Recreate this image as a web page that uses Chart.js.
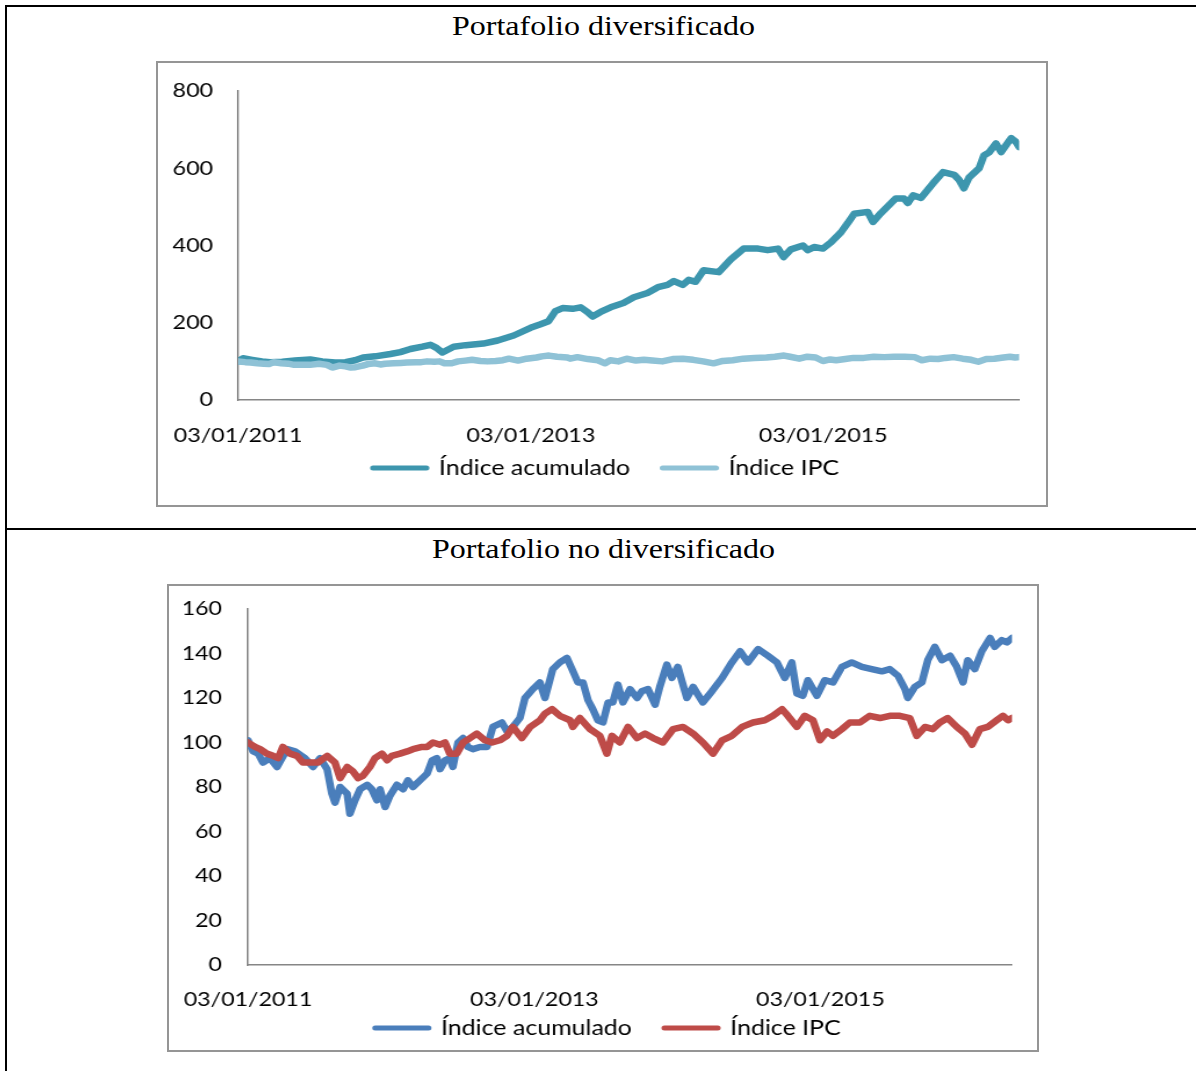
<!DOCTYPE html>
<html lang="es">
<head>
<meta charset="utf-8">
<title>Portafolio diversificado y no diversificado</title>
<script src="https://cdn.jsdelivr.net/npm/chart.js@4.4.1/dist/chart.umd.min.js"></script>
<style>
  html, body { margin: 0; padding: 0; background: #fff; }
  body { width: 1196px; height: 1071px; position: relative; overflow: hidden; }
  .regla { position: absolute; background: #000; }
  .titulo {
    position: absolute; left: 0; width: 1207px; text-align: center;
    font-family: "Liberation Serif", "Times New Roman", serif;
    font-size: 27.6px; line-height: 27.6px; color: #000; white-space: nowrap;
    transform: scaleX(1.16);
  }
  .marco { position: absolute; box-sizing: border-box; border: 2px solid #959595; background: #fff; overflow: hidden; }
  .lienzo { position: absolute; left: 0; top: 0; transform-origin: 0 0; transform: scaleX(1.16); }
</style>
</head>
<body>
<div class="regla" style="left:5px;top:5px;width:1191px;height:2px"></div>
<div class="regla" style="left:5px;top:5px;width:2px;height:1066px"></div>
<div class="regla" style="left:5px;top:528px;width:1191px;height:2px"></div>

<div class="titulo" style="top:12px">Portafolio diversificado</div>
<div class="marco" style="left:156px;top:61px;width:892px;height:446px">
  <div class="lienzo" style="width:765.5px;height:442px"><canvas id="graficoDiv"></canvas></div>
</div>

<div class="titulo" style="top:535px">Portafolio no diversificado</div>
<div class="marco" style="left:167px;top:584px;width:872px;height:468px">
  <div class="lienzo" style="width:748.3px;height:464px"><canvas id="graficoNoDiv"></canvas></div>
</div>

<script>
// Eje de tiempo: días transcurridos desde el 03/01/2011
const diasEtiquetasX = [0, 731, 1461];
const etiquetasEjeX = ['03/01/2011', '03/01/2013', '03/01/2015'];
const diaFinal = 1950;

// Portafolio diversificado: índice acumulado
const diasAcumDiv = [0, 12, 35, 60, 80, 110, 142, 180, 210, 242, 268, 292, 312, 342, 380, 405, 430, 460, 480, 495,
  510, 538, 568, 612, 648, 688, 730, 755, 775, 792, 810, 835, 855, 872, 885, 905, 930, 962, 988, 1022,
  1048, 1072, 1088, 1110, 1125, 1142, 1162, 1200, 1230, 1262, 1298, 1322, 1348, 1362, 1380, 1410, 1422, 1438, 1460, 1480,
  1505, 1522, 1538, 1572, 1585, 1605, 1642, 1662, 1672, 1685, 1705, 1735, 1760, 1788, 1800, 1812, 1825, 1850, 1862, 1875,
  1892, 1905, 1930, 1942, 1950];
const indiceAcumDiv = [100, 108, 104, 100, 98, 99, 102, 105, 100, 97, 98, 103, 110, 113, 119, 124, 132, 138, 143, 135,
  123, 138, 142, 146, 154, 167, 187, 196, 204, 230, 238, 236, 240, 228, 216, 228, 240, 251, 266, 277,
  292, 298, 308, 298, 311, 306, 336, 331, 364, 392, 392, 388, 392, 370, 390, 400, 388, 396, 392, 408,
  434, 458, 482, 487, 461, 484, 522, 522, 510, 530, 523, 561, 590, 583, 570, 548, 576, 600, 633, 641,
  664, 642, 678, 668, 655];

// Portafolio no diversificado: índice acumulado
const diasAcumNoDiv = [0, 13, 26, 38, 56, 74, 87, 100, 120, 145, 166, 184, 202, 214, 222, 235, 253, 260, 273, 286,
  304, 316, 329, 337, 350, 362, 380, 396, 408, 421, 439, 457, 470, 482, 490, 503, 515, 523, 536, 549,
  561, 574, 592, 610, 625, 648, 661, 676, 694, 707, 727, 745, 758, 778, 796, 814, 827, 842, 855, 868,
  880, 893, 906, 919, 931, 944, 957, 975, 993, 1005, 1021, 1039, 1051, 1069, 1082, 1097, 1120, 1136, 1161, 1184,
  1210, 1235, 1256, 1276, 1302, 1327, 1350, 1370, 1388, 1401, 1416, 1429, 1452, 1472, 1493, 1516, 1541, 1567, 1592, 1618,
  1638, 1659, 1677, 1684, 1702, 1720, 1735, 1753, 1771, 1792, 1809, 1825, 1837, 1855, 1873, 1894, 1906, 1924, 1937, 1950];
const indiceAcumNoDiv = [101, 96, 95, 91, 93, 89, 93, 97, 96, 93, 89, 93, 88, 77, 73, 80, 77, 68, 74, 79,
  81, 79, 74, 79, 71, 76, 81, 79, 83, 80, 83, 86, 92, 93, 88, 92, 93, 89, 100, 102,
  98, 97, 98, 98, 107, 109, 105, 107, 111, 120, 124, 127, 120, 133, 136, 138, 133, 127, 127, 119,
  115, 110, 109, 118, 118, 126, 118, 124, 120, 123, 124, 117, 125, 135, 129, 134, 120, 125, 118, 123,
  129, 136, 141, 136, 142, 139, 136, 129, 136, 122, 121, 128, 121, 128, 127, 134, 136, 134, 133, 132,
  133, 130, 124, 120, 125, 127, 137, 143, 137, 139, 134, 127, 137, 133, 141, 147, 143, 146, 145, 147];

// Índice IPC (común a ambos portafolios)
const diasIpc = [0, 18, 31, 48, 64, 77, 89, 107, 125, 140, 158, 179, 202, 222, 235, 253, 268, 281, 293, 311,
  324, 342, 355, 367, 388, 406, 421, 444, 457, 472, 490, 503, 515, 533, 549, 567, 584, 605, 623, 643,
  661, 676, 699, 720, 745, 758, 776, 796, 822, 829, 847, 873, 898, 916, 929, 949, 970, 993, 1013, 1034,
  1059, 1085, 1110, 1136, 1161, 1187, 1210, 1235, 1261, 1289, 1319, 1340, 1363, 1378, 1401, 1421, 1442, 1460, 1478, 1493,
  1516, 1536, 1562, 1587, 1613, 1638, 1664, 1689, 1707, 1728, 1748, 1766, 1786, 1809, 1830, 1848, 1868, 1888, 1911, 1927,
  1940, 1950];
const indiceIpc = [100, 98, 97, 95, 94, 93, 98, 95, 94, 91, 91, 91, 94, 91, 84, 89, 87, 84, 85, 89,
  93, 95, 92, 94, 95, 96, 97, 98, 98, 100, 99, 100, 95, 95, 100, 102, 104, 101, 100, 101,
  103, 107, 102, 107, 110, 113, 115, 112, 110, 107, 111, 106, 103, 95, 103, 100, 107, 102, 104, 102,
  100, 106, 107, 104, 100, 95, 101, 103, 107, 109, 110, 112, 115, 112, 107, 112, 110, 101, 105, 103,
  106, 109, 109, 112, 111, 112, 112, 111, 103, 107, 106, 109, 111, 107, 104, 99, 106, 107, 110, 112,
  110, 111];

const nombreAcum = 'Índice acumulado';
const nombreIpc = 'Índice IPC';

const puntos = (dias, valores) => dias.map((d, i) => ({ x: d, y: valores[i] }));

Chart.defaults.font.family = 'Lato, "Open Sans", sans-serif';
Chart.defaults.color = '#000';

// Coloca la leyenda en una posición fija, por debajo de las fechas del eje X
const ajusteLeyenda = {
  id: 'ajusteLeyenda',
  beforeLayout(chart, args, opts) {
    const lg = chart.legend;
    if (lg && !lg._altoFijo) {
      const fitOriginal = lg.fit;
      lg.fit = function () { fitOriginal.call(this); this._altoReal = this.height; this.height = opts.alto; };
      lg._altoFijo = true;
    }
  },
  afterLayout(chart, args, opts) {
    const lg = chart.legend;
    if (!lg) return;
    const ancho = lg.right - lg.left;
    lg.left = opts.centro - ancho / 2;
    lg.right = opts.centro + ancho / 2;
    lg.height = lg._altoReal || 60;
    lg.top = opts.arriba;
    lg.bottom = opts.arriba + lg.height;
  }
};

function serie(etiqueta, dias, valores, color, orden) {
  return {
    label: etiqueta,
    data: puntos(dias, valores),
    borderColor: color,
    backgroundColor: color,
    borderWidth: 6.5,
    borderCapStyle: 'round',
    borderJoinStyle: 'round',
    pointRadius: 0,
    pointHoverRadius: 0,
    tension: 0,
    fill: false,
    order: orden
  };
}

function crearGrafico(id, series, eje, marco) {
  return new Chart(document.getElementById(id), {
    type: 'line',
    data: { datasets: series },
    plugins: [ajusteLeyenda],
    options: {
      responsive: true,
      maintainAspectRatio: false,
      animation: false,
      events: [],
      layout: { padding: marco.relleno },
      scales: {
        x: {
          type: 'linear',
          min: 0,
          max: diaFinal,
          afterBuildTicks: s => { s.ticks = diasEtiquetasX.map(v => ({ value: v })); },
          afterFit: s => { s.height = marco.separacionX + 26; },
          ticks: {
            autoSkip: false,
            maxRotation: 0,
            padding: 0,
            font: { size: 20 },
            callback: v => etiquetasEjeX[diasEtiquetasX.indexOf(v)]
          },
          grid: { display: false, drawTicks: true, tickLength: marco.separacionX },
          border: { display: true, color: '#868686', width: 1.5 }
        },
        y: {
          min: 0,
          max: eje.max,
          afterFit: s => { s.width = marco.anchoEjeY; },
          ticks: { stepSize: eje.paso, padding: 0, font: { size: 20 } },
          grid: { display: false, drawTicks: true, tickLength: marco.separacionY },
          border: { display: true, color: '#868686', width: 1.5 }
        }
      },
      plugins: {
        tooltip: { enabled: false },
        ajusteLeyenda: marco.leyenda,
        legend: {
          position: 'bottom',
          labels: {
            usePointStyle: true,
            pointStyle: 'line',
            pointStyleWidth: 46,
            padding: 28,
            font: { size: 21.5 },
            color: '#000',
            generateLabels: chart => chart.data.datasets.map((ds, i) => ({
              text: ds.label,
              fillStyle: ds.borderColor,
              strokeStyle: ds.borderColor,
              lineWidth: 5,
              lineCap: 'round',
              pointStyle: 'line',
              hidden: false,
              datasetIndex: i
            }))
          }
        }
      }
    }
  });
}

crearGrafico('graficoDiv', [
  serie(nombreAcum, diasAcumDiv, indiceAcumDiv, '#3D96AE', 1),
  serie(nombreIpc, diasIpc, indiceIpc, '#8FC2D6', 0)
], { max: 800, paso: 200 }, {
  relleno: { left: 0, top: 28, right: 24.1, bottom: 45.4 },
  anchoEjeY: 69, separacionY: 21.6, separacionX: 23.6,
  leyenda: { alto: 10, arriba: 366.25, centro: 385.8 }
});

crearGrafico('graficoNoDiv', [
  serie(nombreAcum, diasAcumNoDiv, indiceAcumNoDiv, '#4A7EBB', 1),
  serie(nombreIpc, diasIpc, indiceIpc, '#BE4B48', 0)
], { max: 160, paso: 20 }, {
  relleno: { left: 0, top: 23, right: 21.6, bottom: 26.4 },
  anchoEjeY: 68.1, separacionY: 22.4, separacionX: 22.6,
  leyenda: { alto: 10, arriba: 403.25, centro: 378.4 }
});
</script>
</body>
</html>
